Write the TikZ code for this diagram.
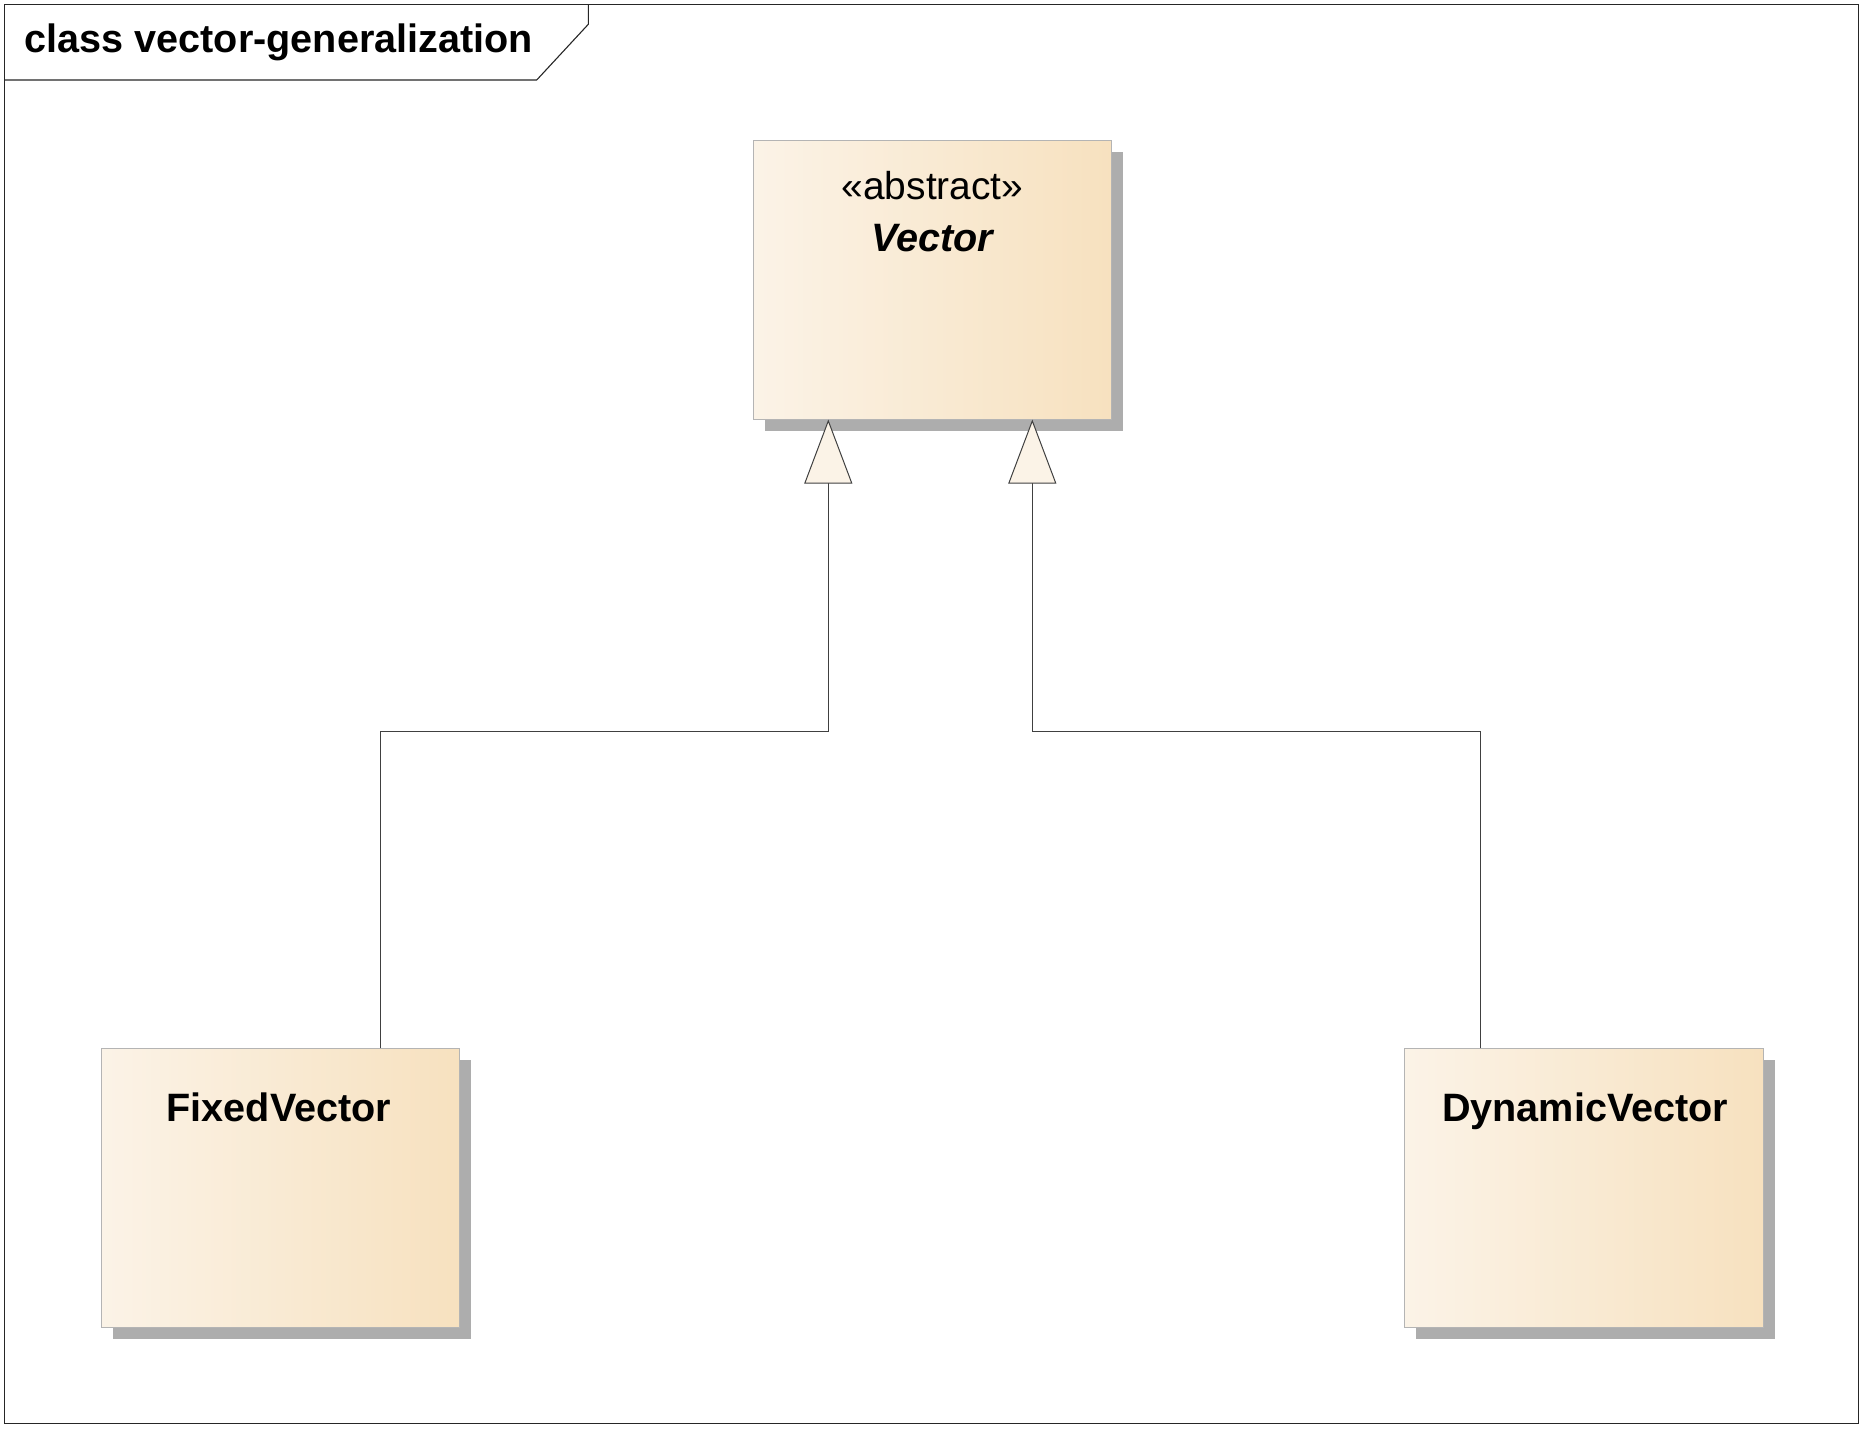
\documentclass[tikz,border=0pt]{standalone}
\usepackage{fontspec}
\setmainfont{Liberation Sans}
\usetikzlibrary{arrows.meta,shadows}
\definecolor{boxleft}{HTML}{FBF3E7}
\definecolor{boxright}{HTML}{F7E1BF}
\definecolor{boxline}{HTML}{B4B4B4}
\definecolor{shadowgray}{HTML}{ADADAD}
\definecolor{conline}{HTML}{404040}
\definecolor{trifill}{HTML}{FBF3E7}
\tikzset{
  classbox/.style={draw=boxline, line width=1pt, anchor=north west,
    minimum width=358.6pt, minimum height=278.5pt, inner sep=0pt,
    left color=boxleft, right color=boxright, shading angle=90,
    drop shadow={shadow xshift=11.5pt, shadow yshift=-11.5pt, fill=shadowgray, opacity=1}},
  bigbold/.style={font=\fontsize{39.6}{47}\selectfont\bfseries, anchor=base, inner sep=0pt},
  stereo/.style={font=\fontsize{38.9}{46}\selectfont, anchor=base, inner sep=0pt},
  gen/.style={draw=conline, line width=1pt,
    -{Triangle[open, width=48pt, length=64pt, fill=trifill, line width=1pt]}},
  framestyle/.style={draw=black!85, line width=1.4pt}
}
\begin{document}
\begin{tikzpicture}[x=1pt,y=-1pt]
\useasboundingbox (0,0) rectangle (1864,1428);
% frame
\draw[framestyle] (4.5,4.5) rectangle (1858.5,1423.5);
\draw[framestyle, line width=1.1pt] (4.5,80) -- (536.7,80) -- (588.3,24.3) -- (588.3,4.5);
\node[bigbold, anchor=base west] (title) at (24.5,52) {class vector-generalization};
% classes
\node[classbox] (vec) at (752.7,140) {};
\node[classbox] (fixed) at (100.7,1048.3) {};
\node[classbox] (dyn) at (1404.3,1048.3) {};
\node[stereo] (vecst) at ([yshift=-59.3pt]vec.north) {«abstract»};
\node[bigbold, font=\fontsize{39.6}{47}\selectfont\bfseries\itshape] (vecname) at ([yshift=-111.7pt]vec.north) {Vector};
\node[bigbold] (fixedname) at ([xshift=-1.5pt,yshift=-73.4pt]fixed.north) {FixedVector};
\node[bigbold] (dynname) at ([xshift=1pt,yshift=-73.4pt]dyn.north) {DynamicVector};
% connectors
\coordinate (j1) at (380.3,731);
\coordinate (j2) at (828.3,731);
\coordinate (k1) at (1480.3,731);
\coordinate (k2) at (1032.3,731);
\draw[gen] (fixed.north -| j1) -- (j1) -- (j2) -- (j2 |- vec.south);
\draw[gen] (dyn.north -| k1) -- (k1) -- (k2) -- (k2 |- vec.south);
\end{tikzpicture}
\end{document}
